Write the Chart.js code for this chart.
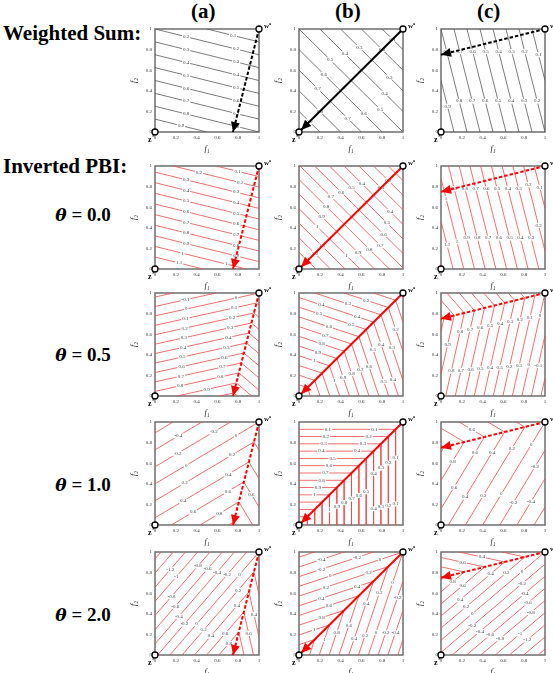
<!DOCTYPE html>
<html>
<head>
<meta charset="utf-8">
<script src="https://cdn.jsdelivr.net/npm/chart.js@4.4.1/dist/chart.umd.min.js"></script>
<style>
  html, body { margin: 0; padding: 0; background: #fff; }
  #page { position: relative; width: 553px; height: 673px; overflow: hidden; font-family: 'Liberation Serif', serif; }
  .panel { position: absolute; }
  .head { position: absolute; font-weight: bold; font-size: 21px; line-height: 21px; color: #000; }
  .section { position: absolute; left: 3px; font-weight: bold; font-size: 21px; line-height: 22px; white-space: nowrap; }
  .theta { position: absolute; font-weight: bold; font-size: 19px; line-height: 20px; white-space: nowrap; transform: translateX(-50%); }
  .theta i { font-family: 'DejaVu Serif', serif; font-size: 17px; }
</style>
</head>
<body>
<div id="page"></div>
<script>
'use strict';

/* ---- data ---- */
const tickLabels   = ['0', '0.2', '0.4', '0.6', '0.8', '1'];
const columnTitles = ['(a)', '(b)', '(c)'];
const sectionTitles = ['Weighted Sum:', 'Inverted PBI:'];
const thetaValues  = ['0.0', '0.5', '1.0', '2.0'];
const nadirPoint   = [1, 1];
const idealPoint   = [0, 0];
const arrowTips    = [[0.75, 0], [0.02, 0.02], [0, 0.75]];

// each contour: [level, x0, y0, x1, y1, ...]
const ws_a = [
  [0.1, 0.5,1, 1,0.875], [0.2, 0,1, 1,0.75], [0.3, 0,0.875, 1,0.625], [0.4, 0,0.75, 1,0.5],
  [0.5, 0,0.625, 1,0.375], [0.6, 0,0.5, 1,0.25], [0.7, 0,0.375, 1,0.125], [0.8, 0,0.25, 1,0],
  [0.9, 0,0.125, 0.5,0]
];
const ws_b = [
  [0.1, 0.8,1, 1,0.8], [0.2, 0.6,1, 1,0.6], [0.3, 0.4,1, 1,0.4], [0.4, 0.2,1, 1,0.2],
  [0.5, 0,1, 1,0], [0.6, 0,0.8, 0.8,0], [0.7, 0,0.6, 0.6,0], [0.8, 0,0.4, 0.4,0], [0.9, 0,0.2, 0.2,0]
];
const ws_c = [
  [0.1, 1,0.5, 0.875,1], [0.2, 1,0, 0.75,1], [0.3, 0.875,0, 0.625,1], [0.4, 0.75,0, 0.5,1],
  [0.5, 0.625,0, 0.375,1], [0.6, 0.5,0, 0.25,1], [0.7, 0.375,0, 0.125,1], [0.8, 0.25,0, 0,1],
  [0.9, 0.125,0, 0,0.5]
];

const t0_a = [
  [0.1, 0.588,1, 1,0.897], [0.2, 0.175,1, 1,0.794], [0.3, 0,0.941, 1,0.691], [0.4, 0,0.838, 1,0.588],
  [0.5, 0,0.735, 1,0.485], [0.6, 0,0.631, 1,0.381], [0.7, 0,0.528, 1,0.278], [0.8, 0,0.425, 1,0.175],
  [0.9, 0,0.322, 1,0.072], [1.0, 0,0.219, 0.877,0], [1.1, 0,0.116, 0.464,0], [1.2, 0,0.013, 0.052,0]
];
const t0_b = [
  [0.1, 0.859,1, 1,0.859], [0.2, 0.717,1, 1,0.717], [0.3, 0.576,1, 1,0.576], [0.4, 0.434,1, 1,0.434],
  [0.5, 0.293,1, 1,0.293], [0.6, 0.151,1, 1,0.151], [0.7, 0.010,1, 1,0.010], [0.8, 0,0.869, 0.869,0],
  [0.9, 0,0.727, 0.727,0], [1.0, 0,0.586, 0.586,0], [1.1, 0,0.444, 0.444,0], [1.2, 0,0.303, 0.303,0],
  [1.3, 0,0.162, 0.162,0], [1.4, 0,0.020, 0.020,0]
];
const t0_c = [
  [0.1, 1,0.588, 0.897,1], [0.2, 1,0.175, 0.794,1], [0.3, 0.941,0, 0.691,1], [0.4, 0.838,0, 0.588,1],
  [0.5, 0.735,0, 0.485,1], [0.6, 0.631,0, 0.381,1], [0.7, 0.528,0, 0.278,1], [0.8, 0.425,0, 0.175,1],
  [0.9, 0.322,0, 0.072,1], [1.0, 0.219,0, 0,0.877], [1.1, 0.116,0, 0,0.464], [1.2, 0.013,0, 0,0.052]
];

const t05_a = [
  [-0.2, 0,0.961, 0.175,1], [-0.1, 0,0.869, 0.588,1], [0, 0,0.778, 1,1],
  [0.1, 0,0.686, 0.976,0.903, 1,0.882], [0.2, 0,0.595, 0.951,0.806, 1,0.764],
  [0.3, 0,0.503, 0.927,0.709, 1,0.647], [0.4, 0,0.412, 0.903,0.612, 1,0.529],
  [0.5, 0,0.320, 0.879,0.515, 1,0.411], [0.6, 0,0.228, 0.854,0.418, 1,0.293],
  [0.7, 0,0.137, 0.830,0.321, 1,0.175], [0.8, 0,0.045, 0.806,0.224, 1,0.057],
  [0.9, 0.211,0, 0.782,0.127, 0.930,0], [1.0, 0.623,0, 0.758,0.030, 0.792,0]
];
const t05_b = [
  [0.1, 0.717,1, 0.929,0.929, 1,0.717], [0.2, 0.434,1, 0.859,0.859, 1,0.434],
  [0.3, 0.151,1, 0.788,0.788, 1,0.151], [0.4, 0,0.956, 0.717,0.717, 0.956,0],
  [0.5, 0,0.862, 0.646,0.646, 0.862,0], [0.6, 0,0.768, 0.576,0.576, 0.768,0],
  [0.7, 0,0.673, 0.505,0.505, 0.673,0], [0.8, 0,0.579, 0.434,0.434, 0.579,0],
  [0.9, 0,0.485, 0.364,0.364, 0.485,0], [1.0, 0,0.391, 0.293,0.293, 0.391,0],
  [1.1, 0,0.296, 0.222,0.222, 0.296,0], [1.2, 0,0.202, 0.151,0.151, 0.202,0],
  [1.3, 0,0.108, 0.081,0.081, 0.108,0], [1.4, 0,0.014, 0.010,0.010, 0.014,0]
];
const t05_c = [
  [-0.2, 0.961,0, 1,0.175], [-0.1, 0.869,0, 1,0.588], [0, 0.778,0, 1,1],
  [0.1, 0.686,0, 0.903,0.976, 0.882,1], [0.2, 0.595,0, 0.806,0.951, 0.764,1],
  [0.3, 0.503,0, 0.709,0.927, 0.647,1], [0.4, 0.412,0, 0.612,0.903, 0.529,1],
  [0.5, 0.320,0, 0.515,0.879, 0.411,1], [0.6, 0.228,0, 0.418,0.854, 0.293,1],
  [0.7, 0.137,0, 0.321,0.830, 0.175,1], [0.8, 0.045,0, 0.224,0.806, 0.057,1],
  [0.9, 0,0.211, 0.127,0.782, 0,0.930], [1.0, 0,0.623, 0.030,0.758, 0,0.792]
];

const t1_a = [
  [-0.6, 0,0.895, 0.175,1], [-0.4, 0,0.730, 0.450,1], [-0.2, 0,0.565, 0.725,1], [0, 0,0.400, 1,1],
  [0.2, 0,0.235, 0.951,0.806, 1,0.725], [0.4, 0,0.070, 0.903,0.612, 1,0.450],
  [0.6, 0.158,0, 0.854,0.418, 1,0.175], [0.8, 0.433,0, 0.806,0.224, 0.940,0],
  [1.0, 0.708,0, 0.758,0.030, 0.775,0]
];
const t1_b = [
  [0.1, 0,0.929, 0.929,0.929, 0.929,0], [0.2, 0,0.859, 0.859,0.859, 0.859,0],
  [0.3, 0,0.788, 0.788,0.788, 0.788,0], [0.4, 0,0.717, 0.717,0.717, 0.717,0],
  [0.5, 0,0.646, 0.646,0.646, 0.646,0], [0.6, 0,0.576, 0.576,0.576, 0.576,0],
  [0.7, 0,0.505, 0.505,0.505, 0.505,0], [0.8, 0,0.434, 0.434,0.434, 0.434,0],
  [0.9, 0,0.364, 0.364,0.364, 0.364,0], [1.0, 0,0.293, 0.293,0.293, 0.293,0],
  [1.1, 0,0.222, 0.222,0.222, 0.222,0], [1.2, 0,0.151, 0.151,0.151, 0.151,0],
  [1.3, 0,0.081, 0.081,0.081, 0.081,0], [1.4, 0,0.010, 0.010,0.010, 0.010,0]
];
const t1_c = [
  [-0.6, 0.895,0, 1,0.175], [-0.4, 0.730,0, 1,0.450], [-0.2, 0.565,0, 1,0.725], [0, 0.400,0, 1,1],
  [0.2, 0.235,0, 0.806,0.951, 0.725,1], [0.4, 0.070,0, 0.612,0.903, 0.450,1],
  [0.6, 0,0.158, 0.418,0.854, 0.175,1], [0.8, 0,0.433, 0.224,0.806, 0,0.940],
  [1.0, 0,0.708, 0.030,0.758, 0,0.775]
];

const t2_a = [
  [-1.6, 0,0.933, 0.058,1], [-1.4, 0,0.795, 0.175,1], [-1.2, 0,0.658, 0.293,1],
  [-1.0, 0,0.521, 0.411,1], [-0.8, 0,0.383, 0.529,1], [-0.6, 0,0.246, 0.647,1],
  [-0.4, 0,0.108, 0.764,1], [-0.2, 0.025,0, 0.882,1], [0, 0.143,0, 1,1],
  [0.2, 0.261,0, 0.951,0.806, 1,0.588], [0.4, 0.379,0, 0.903,0.612, 1,0.175],
  [0.6, 0.496,0, 0.854,0.418, 0.947,0], [0.8, 0.614,0, 0.806,0.224, 0.856,0],
  [1.0, 0.732,0, 0.758,0.030, 0.764,0]
];
const t2_b = [
  [-0.6, 0,0.950, 0.151,1], [-0.6, 0.950,0, 1,0.151], [-0.4, 0,0.855, 0.434,1], [-0.4, 0.855,0, 1,0.434],
  [-0.2, 0,0.761, 0.717,1], [-0.2, 0.761,0, 1,0.717], [0, 0,0.667, 1,1, 0.667,0],
  [0.2, 0,0.572, 0.859,0.859, 0.572,0], [0.4, 0,0.478, 0.717,0.717, 0.478,0],
  [0.6, 0,0.384, 0.576,0.576, 0.384,0], [0.8, 0,0.290, 0.434,0.434, 0.290,0],
  [1.0, 0,0.195, 0.293,0.293, 0.195,0], [1.2, 0,0.101, 0.151,0.151, 0.101,0],
  [1.4, 0,0.007, 0.010,0.010, 0.007,0]
];
const t2_c = [
  [-1.6, 0.933,0, 1,0.058], [-1.4, 0.795,0, 1,0.175], [-1.2, 0.658,0, 1,0.293],
  [-1.0, 0.521,0, 1,0.411], [-0.8, 0.383,0, 1,0.529], [-0.6, 0.246,0, 1,0.647],
  [-0.4, 0.108,0, 1,0.764], [-0.2, 0,0.025, 1,0.882], [0, 0,0.143, 1,1],
  [0.2, 0,0.261, 0.806,0.951, 0.588,1], [0.4, 0,0.379, 0.612,0.903, 0.175,1],
  [0.6, 0,0.496, 0.418,0.854, 0,0.947], [0.8, 0,0.614, 0.224,0.806, 0,0.856],
  [1.0, 0,0.732, 0.030,0.758, 0,0.764]
];

const panelRows = [
  [ws_a, ws_b, ws_c],
  [t0_a, t0_b, t0_c],
  [t05_a, t05_b, t05_c],
  [t1_a, t1_b, t1_c],
  [t2_a, t2_b, t2_c]
];

/* ---- layout ---- */
const COL_X = [155, 299, 441];
const ROW_Y = [29, 166, 293, 422, 552];
const PW = 104, PH = 103;
const PAD_L = 26, PAD_T = 8, PAD_R = 16, PAD_B = 22;
const FONT = "'Liberation Serif', serif";

const page = document.getElementById('page');

/* ---- text ---- */
columnTitles.forEach((t, i) => {
  const el = document.createElement('div');
  el.className = 'head';
  el.textContent = t;
  el.style.left = (COL_X[i] + PW / 2 - 16) + 'px';
  el.style.top = '1px';
  page.appendChild(el);
});
[[sectionTitles[0], 22], [sectionTitles[1], 155]].forEach(([t, y]) => {
  const el = document.createElement('div');
  el.className = 'section';
  el.textContent = t;
  el.style.top = y + 'px';
  page.appendChild(el);
});
[205, 345, 475, 605].forEach((y, i) => {
  const el = document.createElement('div');
  el.className = 'theta';
  el.innerHTML = '<i>θ</i> = ' + thetaValues[i];
  el.style.left = '83px';
  el.style.top = y + 'px';
  page.appendChild(el);
});

/* ---- panel plugin: frame, contour labels, arrow head, point names ---- */
const fmt = v => String(Number(v.toFixed(1)));

const panelDecor = {
  id: 'panelDecor',
  beforeDatasetsDraw(chart) {
    const { ctx, chartArea: a } = chart;
    ctx.save();
    ctx.strokeStyle = '#6e6e6e';
    ctx.lineWidth = 1.5;
    ctx.strokeRect(a.left, a.top, a.right - a.left, a.bottom - a.top);
    ctx.restore();
  },
  afterDatasetDraw(chart, args) {
    const o = chart.options.plugins.panelDecor;
    const { ctx } = chart;
    const xs = chart.scales.x, ys = chart.scales.y;
    if (args.index === 0) {
      ctx.save();
      ctx.font = '5px ' + FONT;
      ctx.textAlign = 'center';
      ctx.textBaseline = 'middle';
      o.contours.forEach(c => {
        for (let i = 1; i + 3 < c.length; i += 2) {
          const x0 = xs.getPixelForValue(c[i]), y0 = ys.getPixelForValue(c[i + 1]);
          const x1 = xs.getPixelForValue(c[i + 2]), y1 = ys.getPixelForValue(c[i + 3]);
          const len = Math.hypot(x1 - x0, y1 - y0);
          const spots = len > 70 ? [0.3, 0.78] : len > 28 ? [0.5] : [];
          spots.forEach(t => {
            const px = x0 + (x1 - x0) * t, py = y0 + (y1 - y0) * t;
            const txt = fmt(c[0]);
            const w = ctx.measureText(txt).width + 2;
            ctx.fillStyle = '#fff';
            ctx.fillRect(px - w / 2, py - 2.5, w, 5);
            ctx.fillStyle = '#444';
            ctx.fillText(txt, px, py);
          });
        }
      });
      ctx.restore();
    }
    if (args.index === o.arrowIndex) {
      const sx = xs.getPixelForValue(nadirPoint[0]), sy = ys.getPixelForValue(nadirPoint[1]);
      const tx = xs.getPixelForValue(o.tip[0]), ty = ys.getPixelForValue(o.tip[1]);
      const d = Math.hypot(tx - sx, ty - sy);
      const ux = (tx - sx) / d, uy = (ty - sy) / d;
      const bx = tx - ux * 10, by = ty - uy * 10;
      ctx.save();
      ctx.fillStyle = o.arrowColor;
      ctx.beginPath();
      ctx.moveTo(tx, ty);
      ctx.lineTo(bx - uy * 4.5, by + ux * 4.5);
      ctx.lineTo(bx + uy * 4.5, by - ux * 4.5);
      ctx.closePath();
      ctx.fill();
      ctx.restore();
    }
  },
  afterDraw(chart) {
    const { ctx } = chart;
    const xs = chart.scales.x, ys = chart.scales.y;
    ctx.save();
    ctx.fillStyle = '#000';
    ctx.font = 'bold 8px ' + FONT;
    ctx.textBaseline = 'alphabetic';
    const zx = xs.getPixelForValue(idealPoint[0]), zy = ys.getPixelForValue(idealPoint[1]);
    ctx.fillText('z', zx - 7, zy + 10);
    ctx.font = 'bold 5px ' + FONT;
    ctx.fillText('*', zx - 3, zy + 6);
    const nx = xs.getPixelForValue(nadirPoint[0]), ny = ys.getPixelForValue(nadirPoint[1]);
    ctx.font = 'bold 7px ' + FONT;
    ctx.fillText('w', nx + 5, ny - 1);
    ctx.font = 'bold 4px ' + FONT;
    ctx.fillText('a', nx + 10, ny - 4);
    ctx.restore();
  }
};

/* ---- build charts ---- */
function toPoints(c) {
  const pts = [];
  for (let i = 1; i + 1 < c.length; i += 2) pts.push({ x: c[i], y: c[i + 1] });
  return pts;
}

function axis(which, title) {
  return {
    type: 'linear', min: 0, max: 1,
    grid: { display: false, drawTicks: false },
    border: { display: false },
    ticks: {
      stepSize: 0.2, autoSkip: false, maxRotation: 0, padding: 3,
      color: '#333', font: { size: 5, family: FONT },
      callback: (v, i) => tickLabels[i]
    },
    title: { display: true, text: title, color: '#222', padding: 0,
             font: { size: 8, style: 'italic', family: FONT } },
    afterFit(s) { if (which === 'x') s.height = PAD_B; else s.width = PAD_L; }
  };
}

panelRows.forEach((row, r) => {
  row.forEach((contours, c) => {
    const holder = document.createElement('div');
    holder.className = 'panel';
    const w = PAD_L + PW + PAD_R, h = PAD_T + PH + PAD_B;
    holder.style.left = (COL_X[c] - PAD_L) + 'px';
    holder.style.top = (ROW_Y[r] - PAD_T) + 'px';
    holder.style.width = w + 'px';
    holder.style.height = h + 'px';
    const cv = document.createElement('canvas');
    cv.width = w; cv.height = h;
    cv.style.width = w + 'px'; cv.style.height = h + 'px';
    holder.appendChild(cv);
    page.appendChild(holder);

    const lineColor = r === 0 ? '#5a5a5a' : '#ec4a4a';
    const arrowColor = r === 0 ? '#000' : '#ff0000';
    const datasets = contours.map(cn => ({
      data: toPoints(cn), showLine: true, borderColor: lineColor, borderWidth: 0.8,
      pointRadius: 0, order: 3
    }));
    datasets.push({
      data: [{ x: nadirPoint[0], y: nadirPoint[1] }, { x: arrowTips[c][0], y: arrowTips[c][1] }],
      showLine: true, borderColor: arrowColor, borderWidth: 2,
      borderDash: c === 1 ? [] : [3.5, 2], pointRadius: 0, clip: false, order: 2
    });
    datasets.push({
      data: [{ x: idealPoint[0], y: idealPoint[1] }, { x: nadirPoint[0], y: nadirPoint[1] }],
      showLine: false, pointRadius: 3, pointBackgroundColor: '#fff', pointBorderColor: '#000',
      pointBorderWidth: 1.3, clip: false, order: 1
    });

    new Chart(cv, {
      type: 'scatter',
      data: { datasets },
      options: {
        responsive: false, animation: false, events: [],
        layout: { padding: { left: 0, top: PAD_T, right: PAD_R, bottom: 0 } },
        plugins: {
          legend: { display: false }, tooltip: { enabled: false },
          panelDecor: { contours, arrowIndex: contours.length, tip: arrowTips[c], arrowColor }
        },
        scales: { x: axis('x', 'f₁'), y: axis('y', 'f₂') }
      },
      plugins: [panelDecor]
    });
  });
});
</script>
</body>
</html>
